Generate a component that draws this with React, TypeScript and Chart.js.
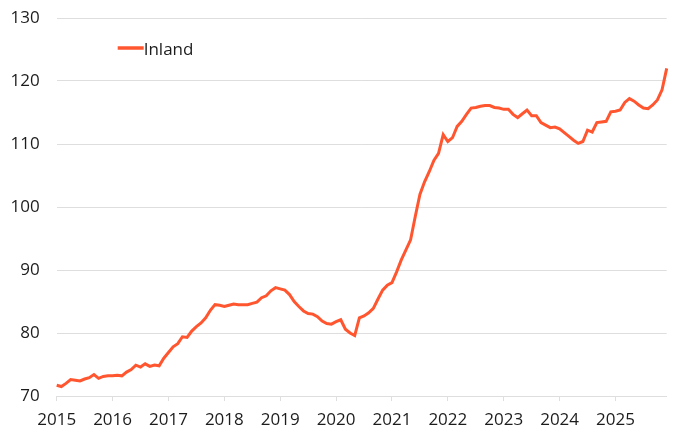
import React, { useEffect, useRef } from "react";
import { Chart, registerables } from "chart.js";

Chart.register(...registerables);

const years = [2015, 2016, 2017, 2018, 2019, 2020, 2021, 2022, 2023, 2024, 2025];
const monthCodes = ["01", "02", "03", "04", "05", "06", "07", "08", "09", "10", "11", "12"];
const categories = years.flatMap((y) => monthCodes.map((m) => `${y}-${m}`));

const yTicks = [70, 80, 90, 100, 110, 120, 130];
const seriesLabel = "Inland";

const inland = [
  // 2015
  71.7, 71.5, 72.0, 72.6, 72.5, 72.4, 72.7, 72.9, 73.4, 72.8, 73.1, 73.2,
  // 2016
  73.2, 73.3, 73.2, 73.8, 74.2, 74.9, 74.6, 75.1, 74.7, 74.9, 74.8, 76.0,
  // 2017
  76.9, 77.8, 78.3, 79.4, 79.3, 80.3, 81.0, 81.6, 82.4, 83.6, 84.5, 84.4,
  // 2018
  84.2, 84.4, 84.6, 84.5, 84.5, 84.5, 84.7, 84.9, 85.6, 85.9, 86.7, 87.2,
  // 2019
  87.0, 86.8, 86.1, 85.0, 84.2, 83.5, 83.1, 83.0, 82.6, 81.9, 81.5, 81.4,
  // 2020
  81.8, 82.1, 80.6, 80.0, 79.6, 82.4, 82.7, 83.2, 83.9, 85.4, 86.8, 87.6,
  // 2021
  88.0, 89.7, 91.6, 93.2, 94.8, 98.5, 102.0, 104.0, 105.6, 107.4, 108.5, 111.5,
  // 2022
  110.4, 111.0, 112.8, 113.6, 114.7, 115.7, 115.8, 116.0, 116.1, 116.1, 115.8, 115.7,
  // 2023
  115.5, 115.5, 114.7, 114.2, 114.8, 115.4, 114.5, 114.5, 113.4, 113.0, 112.6, 112.7,
  // 2024
  112.4, 111.8, 111.2, 110.6, 110.1, 110.4, 112.2, 111.9, 113.4, 113.5, 113.6, 115.1,
  // 2025
  115.2, 115.4, 116.6, 117.2, 116.8, 116.2, 115.7, 115.6, 116.2, 117.0, 118.6, 122.0,
];

const LINE_COLOR = "#ff5630";
const GRID_COLOR = "#dedede";
const TEXT_COLOR = "#1c1c1c";
const FONT_FAMILY = "'Open Sans', 'Noto Sans', sans-serif";

const legendPlugin = {
  id: "insideLegend",
  afterDraw(chart: any) {
    const { ctx, chartArea } = chart;
    const x0 = chartArea.left + 61;
    const y0 = chartArea.top + 30;
    ctx.save();
    ctx.strokeStyle = LINE_COLOR;
    ctx.lineWidth = 3.5;
    ctx.lineCap = "butt";
    ctx.beginPath();
    ctx.moveTo(x0, y0);
    ctx.lineTo(x0 + 26, y0);
    ctx.stroke();
    ctx.fillStyle = TEXT_COLOR;
    ctx.font = `17px ${FONT_FAMILY}`;
    ctx.textBaseline = "alphabetic";
    ctx.textAlign = "left";
    ctx.fillText(chart.data.datasets[0].label, x0 + 26, y0 + 7);
    ctx.restore();
  },
};

export default function App() {
  const canvasRef = useRef<HTMLCanvasElement | null>(null);

  useEffect(() => {
    document.body.style.margin = "0";
    const canvas = canvasRef.current;
    if (!canvas) return;
    const chart = new Chart(canvas, {
      type: "line",
      data: {
        labels: categories,
        datasets: [
          {
            label: seriesLabel,
            data: inland,
            borderColor: LINE_COLOR,
            backgroundColor: LINE_COLOR,
            borderWidth: 3,
            pointRadius: 0,
            tension: 0,
            fill: false,
          },
        ],
      },
      options: {
        responsive: false,
        animation: false,
        layout: { padding: { left: 0, right: 16.3, top: 18, bottom: 0 } },
        plugins: {
          legend: { display: false },
          tooltip: { enabled: false },
        },
        scales: {
          x: {
            type: "category",
            offset: false,
            afterBuildTicks: (axis: any) => {
              axis.ticks = axis.ticks.filter((t: any) => t.value % 12 === 0);
            },
            afterFit: (axis: any) => {
              axis.height = 40;
              axis.paddingLeft = 0;
              axis.paddingRight = 0;
            },
            border: { display: true, color: GRID_COLOR, width: 1 },
            grid: {
              drawOnChartArea: false,
              drawTicks: true,
              tickLength: 5,
              tickColor: GRID_COLOR,
              color: GRID_COLOR,
            },
            ticks: {
              autoSkip: false,
              maxRotation: 0,
              minRotation: 0,
              padding: 9,
              color: TEXT_COLOR,
              font: { family: FONT_FAMILY, size: 17 },
              callback: (value: any) => categories[value as number].slice(0, 4),
            },
          },
          y: {
            min: yTicks[0],
            max: yTicks[yTicks.length - 1],
            afterBuildTicks: (axis: any) => {
              axis.ticks = yTicks.map((v) => ({ value: v }));
            },
            afterFit: (axis: any) => {
              axis.width = 56.7;
              axis.paddingTop = 0;
              axis.paddingBottom = 0;
            },
            border: { display: false },
            grid: {
              color: GRID_COLOR,
              lineWidth: 1,
              drawTicks: false,
            },
            ticks: {
              padding: 17,
              color: TEXT_COLOR,
              font: { family: FONT_FAMILY, size: 17 },
            },
          },
        },
      },
      plugins: [legendPlugin],
    });
    return () => chart.destroy();
  }, []);

  return (
    <div style={{ width: 683, height: 436 }}>
      <canvas ref={canvasRef} width={683} height={436} style={{ display: "block" }} />
    </div>
  );
}
